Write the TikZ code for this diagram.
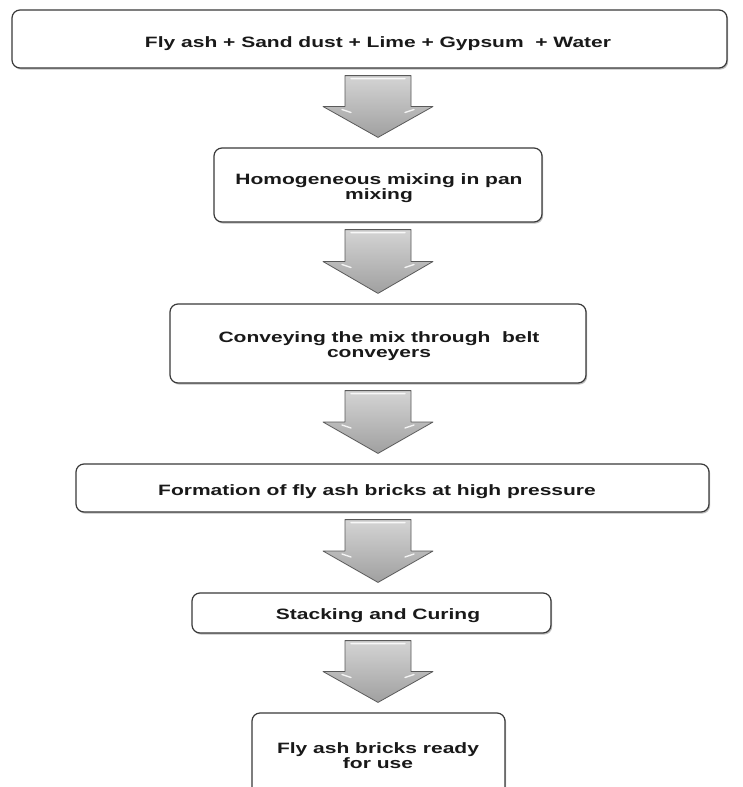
\documentclass[tikz,border=0pt]{standalone}
\usepackage{fontspec}
\newfontfamily\boxfont[FakeStretch=1.4]{Liberation Sans Bold}
\usetikzlibrary{calc,shadows}
\definecolor{boxline}{RGB}{58,58,58}
\definecolor{arrline}{RGB}{90,90,90}
\definecolor{arrtop}{RGB}{212,212,212}
\definecolor{arrbot}{RGB}{160,160,160}
\tikzset{
  box/.style={draw=boxline, line width=1.2pt, rounded corners=8pt, fill=white,
    inner sep=0pt, drop shadow={shadow xshift=1.2pt, shadow yshift=-1.6pt, fill=black!45, opacity=.55}},
  label/.style={font=\boxfont\fontsize{15}{15}\selectfont, align=center, inner sep=0pt, text=black!90},
  bigarrow/.style={draw=arrline, line width=0.8pt, top color=arrtop, bottom color=arrbot, line join=round},
  shine/.style={draw=white, line width=1.4pt, line cap=round, opacity=.85}
}
\newcommand\flowarrow[2]{%
  \path let \p1=($(ax |- #1.south)+(0,7)$), \p2=($(ax |- #2.north)+(0,-10)$),
            \n1={(\y1+\y2)/2} in
    [bigarrow] (\x1-33pt,\y1) -- (\x1+33pt,\y1) -- (\x1+33pt,\n1) -- (\x1+55pt,\n1)
      -- (\x1,\y2) -- (\x1-55pt,\n1) -- (\x1-33pt,\n1) -- cycle;
  \path let \p1=($(ax |- #1.south)+(0,7)$), \p2=($(ax |- #2.north)+(0,-10)$),
            \n1={(\y1+\y2)/2} in
    [shine] (\x1-27pt,\y1-3pt) -- (\x1+27pt,\y1-3pt)
    (\x1-36pt,\n1-3pt) -- (\x1-27pt,\n1-6pt)
    (\x1+36pt,\n1-3pt) -- (\x1+27pt,\n1-6pt);
}
\begin{document}
\begin{tikzpicture}[x=1pt,y=-1pt]
\useasboundingbox (0,0) rectangle (743,787);
\clip (0,0) rectangle (743,787);
\fill[white] (0,0) rectangle (743,787);
\coordinate (ax) at (378,0);
% boxes
\node[box, minimum width=715pt, minimum height=58pt] (b1) at (369.5,39) {};
\node[box, minimum width=328pt, minimum height=74pt] (b2) at (378,185) {};
\node[box, minimum width=416pt, minimum height=79pt] (b3) at (378,343.5) {};
\node[box, minimum width=633pt, minimum height=48pt] (b4) at (392.5,488) {};
\node[box, minimum width=359pt, minimum height=40pt] (b5) at (371.5,613) {};
\node[box, minimum width=253pt, minimum height=87pt] (b6) at (378.5,756.5) {};
% texts
\node[label, anchor=base] (t1) at (378,47) {Fly ash + Sand dust + Lime + Gypsum \ + Water};
\node[label] (t2) at (379,188.5) {Homogeneous mixing in pan\\mixing};
\node[label] (t3) at (379,346.5) {Conveying the mix through \ belt\\conveyers};
\node[label, anchor=base] (t4) at (377,495) {Formation of fly ash bricks at high pressure};
\node[label, anchor=base] (t5) at (378,619) {Stacking and Curing};
\node[label] (t6) at (378,755.5) {Fly ash bricks ready\\for use};
% arrows
\flowarrow{b1}{b2}
\flowarrow{b2}{b3}
\flowarrow{b3}{b4}
\flowarrow{b4}{b5}
\flowarrow{b5}{b6}
\end{tikzpicture}
\end{document}
